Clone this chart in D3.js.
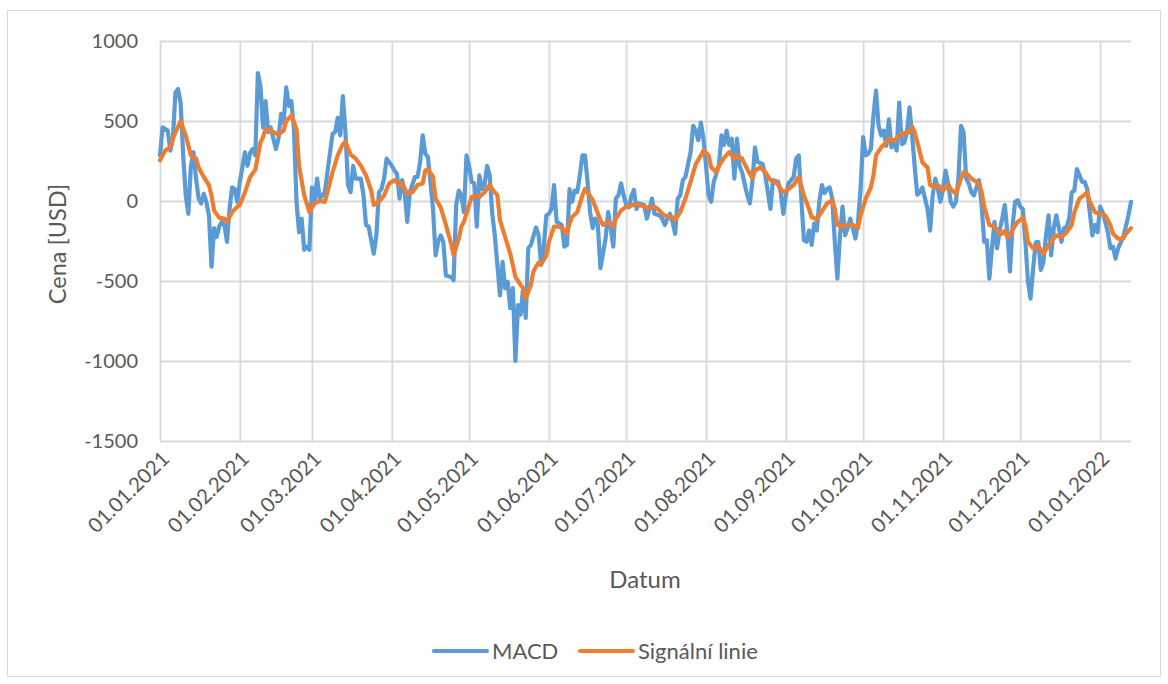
<!DOCTYPE html>
<html><head><meta charset="utf-8">
<script src="https://cdn.jsdelivr.net/npm/d3@7"></script>
<style>body{margin:0;background:#fff} svg{display:block}</style>
</head><body>
<svg id="chart" width="1168" height="684"></svg>
<script>
// ---- data ----
const startDate = "2021-01-01";           // day 0 of the series
const macdDay = [
  0,1,3,4,5,6,7,8,9,10, 11,12,13,14,15,16,17,18,19,20, 21,22,23,24,25,26,27,28,29,30,
  31,33,34,35,36,37,38,39,40,41, 42,43,44,45,46,47,48,49,50,51, 52,53,54,55,56,57,58,59,60,61,
  62,64,65,67,68,69,70,71,72,73, 74,75,76,78,79,80,81,83,84,85, 86,87,88,90,91,92,93,94,95,96,
  97,99,100,101,102,103,104,105,106,107, 108,109,110,111,112,113,114,115,116,117,
  118,119,120,121,122,123,124,125,126,127, 128,129,130,132,133,134,135,136,137,138,
  139,140,141,142,143,144,146,147,148,149, 150,151,152,153,154,155,156,157,158,159,
  160,161,162,163,164,165,166,167,168,169, 170,171,173,174,175,176,177,178,179,180,
  181,182,183,184,185,186,188,189,190,191, 192,194,195,196,197,198,199,200,201,202,
  203,204,206,207,208,209,210,211,212,213, 214,215,217,218,219,220,221,222,223,224,
  225,226,228,229,230,231,232,234,235,236, 237,238,240,241,242,243,244,245,246,247,
  248,249,250,251,252,253,254,255,256,257, 258,259,260,261,262,263,264,265,266,267,
  268,269,270,271,272,273,274,275,276,277, 278,279,280,281,282,283,284,285,286,287,
  288,289,290,291,292,293,294,295,296,298, 299,300,301,302,303,304,305,306,307,308,
  309,310,311,312,313,314,315,316,317,318, 319,320,321,322,323,324,325,326,327,328,
  329,330,331,332,333,334,335,336,337,338, 339,340,341,342,343,344,345,346,347,348,
  349,350,351,352,353,354,355,356,357,358, 359,360,361,362,363,364,365,366,367,368,
  369,370,371,372,374,375,376,377
];
const macdValue = [
  285,460,440,315,390,680,700,615,285,35, -80,220,305,140,15,-15,45,-5,-90,-410, -170,-225,-160,-130,-150,-255,-50,85,75,-5,
  120,305,220,300,325,285,800,720,460,625, 430,460,390,325,390,545,490,710,595,625, 450,-5,-195,-110,-305,-285,-305,85,-5,140,
  15,55,180,420,430,520,410,655,430,100, 55,220,140,140,35,-150,-160,-330,-215,55, 75,140,265,220,190,170,15,130,55,-130,
  55,150,150,245,410,295,275,120,-50,-340, -255,-215,-255,-465,-470,-475,-495,-25,65,35,
  -70,285,220,120,110,-160,160,75,100,220, 160,-80,-215,-590,-380,-545,-505,-670,-545,-1000,
  -650,-710,-545,-730,-295,-275,-165,-215,-400,-285, -90,-80,-50,100,-130,-140,-150,-285,-275,75,
  -5,65,55,160,285,285,120,-70,-170,-110, -150,-420,-235,-70,-170,-285,15,35,110,35,
  -25,-40,30,70,-50,-15,-25,-110,-50,15, -80,-90,-110,-150,-110,-80,-130,-205,15,35,
  130,150,305,470,440,380,490,390,220,35, -5,120,220,410,350,440,350,390,140,390,
  220,180,35,-15,120,335,245,230,160,55, -50,130,120,55,-80,35,110,130,150,265,
  285,15,-245,-255,-185,-275,-140,-185,0,100, 50,75,85,15,-255,-485,-215,-35,-215,-170,
  -110,-170,-235,-130,75,400,285,295,325,535, 690,470,410,440,345,510,335,380,315,615,
  355,365,430,585,410,220,40,55,85,-50, -185,35,140,75,-5,75,190,110,-5,-35,
  -5,140,470,430,140,110,55,35,85,130, -25,-255,-245,-485,-295,-130,-295,-185,-110,-25,
  -195,-440,-160,-5,5,-35,-50,-255,-505,-610, -420,-260,-255,-430,-380,-215,-90,-340,-170,-90,
  -170,-255,-170,-160,-110,55,65,200,160,120, 120,75,-70,-215,-150,-195,-35,-70,-130,-195,
  -295,-285,-360,-295,-225,-160,-90,-5
];
const signalDay = [
  0,2,4,5,8,10,12,14,15,17, 19,20,21,23,25,26,28,30,31,33, 35,37,39,40,41,43,46,48,49,51,
  53,54,56,58,60,62,64,65,67,69, 71,72,74,76,78,80,82,83,85,87, 89,91,93,94,96,98,100,102,103,104,
  106,107,109,111,113,114,116,117,118,120, 121,123,124,126,128,129,131,132,134,136,
  138,140,141,142,144,145,146,147,148,150, 151,153,155,157,158,159,160,162,164,165,
  166,168,169,171,172,174,176,177,179,181, 183,184,186,188,190,192,194,195,197,199,
  200,202,204,206,208,210,211,213,214,216, 217,219,221,223,224,226,228,230,231,233,
  235,237,239,240,242,244,246,248,250,252, 253,255,256,258,259,261,262,263,265,267,
  269,270,271,272,274,276,277,278,280,282, 283,285,287,289,291,292,293,294,295,296,
  298,299,301,302,304,306,307,309,311,312, 314,315,317,318,319,320,322,324,326,327,
  328,329,330,331,333,335,336,337,339,340, 341,343,345,346,348,350,352,354,355,357,
  359,360,361,363,365,367,369,370,372,374, 375,377
];
const signalValue = [
  255,315,335,390,500,410,285,265,210,150, 100,35,-60,-105,-110,-130,-70,-35,-25,55, 150,195,365,400,450,440,415,440,500,535,
  450,220,35,-70,-15,0,-5,55,180,285, 355,370,290,265,220,160,65,-25,-5,35, 110,130,100,110,45,55,100,110,190,200,
  150,15,-40,-150,-265,-340,-235,-160,-130,-25, 25,35,25,55,100,75,35,-120,-225,-330,
  -475,-525,-545,-610,-525,-440,-410,-385,-395,-340, -255,-160,-160,-180,-205,-140,-100,-70,35,75,
  55,5,-35,-120,-150,-130,-160,-110,-60,-35, -30,-20,-25,-35,-45,-35,-60,-80,-100,-100,
  -120,-70,15,120,230,285,315,285,210,180, 220,270,305,265,285,265,200,140,190,210,
  180,130,120,100,55,75,100,150,35,-50, -100,-115,-90,-40,-15,5,-50,-150,-160,-150,
  -150,-160,-170,-90,15,85,160,285,335,365, 390,375,410,425,430,465,430,370,305,240,
  210,100,85,100,65,100,75,45,140,180, 160,140,120,110,55,-35,-150,-160,-205,-205,
  -185,-225,-220,-180,-130,-105,-150,-255,-295,-295, -280,-330,-275,-255,-215,-225,-195,-150,-70,15,
  40,55,-5,-70,-80,-90,-150,-205,-235,-235, -205,-170
];
const seriesNames = ["MACD", "Signální linie"];
const seriesColors = ["#5b9bd5", "#ed7d31"];
const yTickValues = [1000, 500, 0, -500, -1000, -1500];
const xTickLabels = ["01.01.2021","01.02.2021","01.03.2021","01.04.2021","01.05.2021","01.06.2021",
  "01.07.2021","01.08.2021","01.09.2021","01.10.2021","01.11.2021","01.12.2021","01.01.2022"];
const xTitle = "Datum";
const yTitle = "Cena [USD]";

// ---- drawing ----
const svg = d3.select("#chart");
const FONT = "Lato, 'Open Sans', sans-serif";
const TXT = "#595959";
const GRID = "#d9d9d9";
const plot = {left: 160, right: 1131, top: 41, bottom: 441};

const t0 = d3.utcParse("%Y-%m-%d")(startDate);
const toDate = d => d3.utcDay.offset(t0, d);
const macd = macdDay.map((d, i) => ({date: toDate(d), value: macdValue[i]}));
const signal = signalDay.map((d, i) => ({date: toDate(d), value: signalValue[i]}));
const parseTick = d3.utcParse("%d.%m.%Y");
const xTicks = xTickLabels.map(parseTick);

const x = d3.scaleUtc()
  .domain([t0, d3.max(macd.concat(signal), d => d.date)])
  .range([plot.left, plot.right]);
const y = d3.scaleLinear().domain([-1500, 1000]).range([plot.bottom, plot.top]);

// outer chart border
svg.append("rect").attr("x", 7.5).attr("y", 10.5).attr("width", 1153).attr("height", 666)
  .attr("fill", "#fff").attr("stroke", "#d9d9d9").attr("stroke-width", 1);

// y axis with horizontal gridlines
const gy = svg.append("g").attr("transform", `translate(${plot.left},0)`)
  .call(d3.axisLeft(y).tickValues(yTickValues).tickFormat(d => String(d))
    .tickSize(-(plot.right - plot.left)).tickPadding(22));
gy.select(".domain").remove();
gy.selectAll(".tick line").attr("stroke", GRID).attr("stroke-width", 1.8);
gy.selectAll(".tick text").attr("fill", TXT).style("font-family", FONT).style("font-size", "20px");

// x axis with vertical gridlines
const gx = svg.append("g").attr("transform", `translate(0,${plot.bottom})`)
  .call(d3.axisBottom(x).tickValues(xTicks).tickFormat((d, i) => xTickLabels[i])
    .tickSize(-(plot.bottom - plot.top)).tickPadding(0));
gx.select(".domain").remove();
gx.selectAll(".tick line").attr("stroke", GRID).attr("stroke-width", 1.8);
gx.selectAll(".tick text")
  .attr("fill", TXT).style("font-family", FONT).style("font-size", "20.5px")
  .attr("text-anchor", "end").attr("dy", "0.35em").attr("y", 0).attr("x", 0)
  .attr("transform", "translate(5,14) rotate(-45)");

// lines
const line = d3.line().x(d => x(d.date)).y(d => y(d.value));
[macd, signal].forEach((s, i) => {
  svg.append("path").datum(s).attr("d", line).attr("fill", "none")
    .attr("stroke", seriesColors[i]).attr("stroke-width", 4.2)
    .attr("stroke-linejoin", "round").attr("stroke-linecap", "round");
});

// axis titles
svg.append("text").attr("x", 645).attr("y", 588).attr("text-anchor", "middle")
  .attr("fill", TXT).style("font-family", FONT).style("font-size", "24px").text(xTitle);
svg.append("text").attr("transform", "translate(66,244) rotate(-90)").attr("text-anchor", "middle")
  .attr("fill", TXT).style("font-family", FONT).style("font-size", "23.5px").text(yTitle);

// legend
const legendItems = [{x: 434}, {x: 580}];
legendItems.forEach((it, i) => {
  const g = svg.append("g").attr("transform", `translate(${it.x},651)`);
  g.append("line").attr("x1", 0).attr("x2", 53).attr("y1", 0).attr("y2", 0)
    .attr("stroke", seriesColors[i]).attr("stroke-width", 4.2).attr("stroke-linecap", "round");
  g.append("text").attr("x", 58).attr("y", 8).attr("fill", TXT)
    .style("font-family", FONT).style("font-size", "22px").text(seriesNames[i]);
});
</script>
</body></html>
